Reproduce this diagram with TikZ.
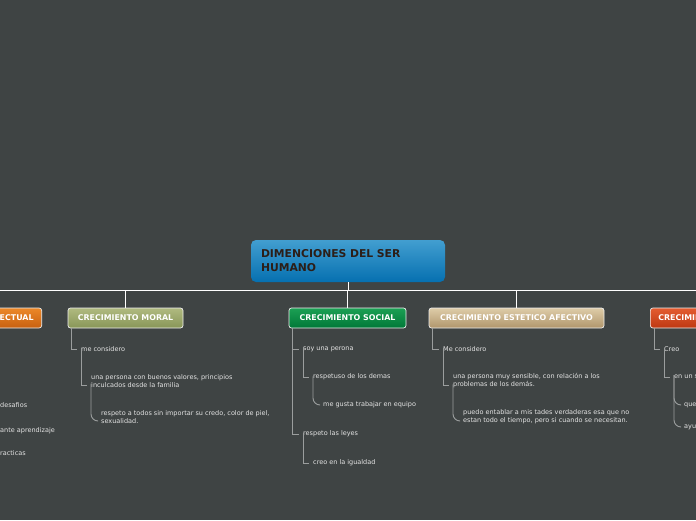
\documentclass[tikz,border=0pt]{standalone}
\usepackage{fontspec}
\setmainfont{DejaVu Sans}
\definecolor{bg}{RGB}{63,68,68}
\definecolor{conn}{RGB}{155,158,158}
\definecolor{txt}{RGB}{228,228,228}
\definecolor{rootdark}{RGB}{44,30,24}
\tikzset{
  hdr/.style={draw=white!88!gray, line width=0.7pt, rounded corners=2.5pt, text=white,
    font=\fontsize{7.9}{8}\selectfont\bfseries, minimum height=20pt, inner xsep=8pt, inner ysep=0pt},
  item/.style={anchor=west, inner sep=0pt, text=txt, align=left,
    font=\fontsize{6.5}{8}\selectfont},
  cline/.style={draw=conn, line width=0.9pt},
  curve/.style={cline, rounded corners=7pt},
  link/.style={draw=white, line width=0.8pt},
}
\begin{document}
\begin{tikzpicture}[x=1pt,y=-1pt]
\useasboundingbox (0,0) rectangle (696,520);
\fill[bg] (0,0) rectangle (696,520);
\clip (0,0) rectangle (696,520);

% root
\node[rounded corners=5pt, top color={rgb,255:red,66;green,158;blue,208}, bottom color={rgb,255:red,6;green,112;blue,176},
  minimum width=194pt, minimum height=42pt, inner xsep=10pt, text width=174pt, align=left,
  text=rootdark, font=\fontsize{10.8}{14}\selectfont\bfseries] (root) at (348,261) {DIMENCIONES DEL SER\\HUMANO};

% headers
\node[hdr, anchor=east, top color={rgb,255:red,236;green,136;blue,40}, bottom color={rgb,255:red,200;green,96;blue,16}] (intel) at (42,318) {CRECIMIENTO INTELECTUAL};
\node[hdr, minimum width=115pt, top color={rgb,255:red,176;green,186;blue,128}, bottom color={rgb,255:red,136;green,150;blue,88}] (moral) at (125.5,318) {CRECIMIENTO MORAL};
\node[hdr, minimum width=117pt, top color={rgb,255:red,28;green,160;blue,84}, bottom color={rgb,255:red,0;green,120;blue,56}] (social) at (347.5,318) {CRECIMIENTO SOCIAL};
\node[hdr, minimum width=175pt, top color={rgb,255:red,222;green,204;blue,168}, bottom color={rgb,255:red,176;green,150;blue,108}] (estet) at (516.5,318) {CRECIMIENTO ESTETICO AFECTIVO};
\node[hdr, anchor=west, text width=104pt, align=left, top color={rgb,255:red,228;green,92;blue,48}, bottom color={rgb,255:red,190;green,56;blue,18}] (fis) at (650,318) {CRECIMIENTO};

% top links
\coordinate (hl) at (0,290);
\coordinate (hr) at (696,290);
\coordinate (rj) at (348,290);
\draw[link] (hl) -- (hr);
\draw[link] (root.south) -- (rj);
\draw[link] (moral.north |- rj) -- (moral.north);
\draw[link] (social.north |- rj) -- (social.north);
\draw[link] (estet.north |- rj) -- (estet.north);

% intelectual fragments
\node[item] (i1) at (0,405) {desafios};
\node[item] (i2) at (0,431) {ante aprendizaje};
\node[item] (i3) at (0,453) {racticas};

% moral
\node[item] (m1) at (81,349) {me considero};
\node[item] (m2) at (91,381) {una persona con buenos valores, principios\\inculcados desde la familia};
\node[item] (m3) at (101,417) {respeto a todos sin importar su credo, color de piel,\\sexualidad.};
\draw[cline] ([xshift=4pt]moral.south west) |- ([xshift=-4pt]m1.west);
\draw[cline] ([yshift=4pt]m1.south west) |- ([xshift=-4pt,yshift=-4pt]m2.west);
\draw[curve] ([yshift=4pt]m2.south west) |- ([xshift=-4pt,yshift=-4pt]m3.west);

% social
\node[item] (s1) at (303,349) {soy una perona};
\node[item] (s2) at (313,377) {respetuso de los demas};
\node[item] (s3) at (323,405) {me gusta trabajar en equipo};
\node[item] (s4) at (303,434) {respeto las leyes};
\node[item] (s5) at (313,463) {creo en la igualdad};
\draw[cline] ([xshift=4pt]social.south west) |- ([xshift=-4pt]s1.west);
\draw[cline] ([xshift=4pt]social.south west) |- ([xshift=-4pt]s4.west);
\draw[cline] ([yshift=4pt]s1.south west) |- ([xshift=-4pt]s2.west);
\draw[curve] ([yshift=4pt]s2.south west) |- ([xshift=-4pt]s3.west);
\draw[cline] ([yshift=4pt]s4.south west) |- ([xshift=-4pt]s5.west);

% estetico
\node[item] (e1) at (443,349) {Me considero};
\node[item] (e2) at (453,381) {una persona muy sensible, con relación a los\\problemas de los demás.};
\node[item] (e3) at (463,417) {puedo entablar a mis tades verdaderas esa que no\\estan todo el tiempo, pero si cuando se necesitan.};
\draw[cline] ([xshift=4pt]estet.south west) |- ([xshift=-4pt]e1.west);
\draw[cline] ([yshift=4pt]e1.south west) |- ([xshift=-4pt,yshift=-4pt]e2.west);
\draw[curve] ([yshift=4pt]e2.south west) |- ([xshift=-4pt,yshift=-4pt]e3.west);

% right fragments
\node[item] (f1) at (664,349) {Creo};
\node[item] (f2) at (674,377) {en un s};
\node[item] (f3) at (684,405) {que};
\node[item] (f4) at (684,427) {ayu};
\draw[cline] ([xshift=4pt]fis.south west) |- ([xshift=-4pt]f1.west);
\draw[cline] ([yshift=4pt]f1.south west) |- ([xshift=-4pt]f2.west);
\draw[curve] ([yshift=4pt]f2.south west) |- ([xshift=-4pt]f3.west);
\draw[curve] ([yshift=4pt]f2.south west) |- ([xshift=-4pt]f4.west);
\end{tikzpicture}
\end{document}
